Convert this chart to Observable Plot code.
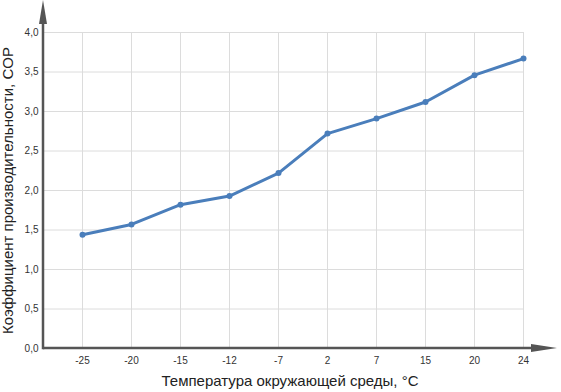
<!DOCTYPE html>
<html><head><meta charset="utf-8">
<script src="https://cdn.jsdelivr.net/npm/d3@7"></script>
<script src="https://cdn.jsdelivr.net/npm/@observablehq/plot@0.6"></script>
<style>body{margin:0;background:#fff}</style>
</head><body><div id="chart"></div>
<script>
const temperatures = ["-25","-20","-15","-12","-7","2","7","15","20","24"];
const cop = [1.44, 1.57, 1.82, 1.93, 2.22, 2.72, 2.91, 3.12, 3.46, 3.67];
const yTicks = [0,0.5,1,1.5,2,2.5,3,3.5,4];
const xTitle = "Температура окружающей среды, °C";
const yTitle = "Коэффициент производительности, COP";

const data = temperatures.map((t,i)=>({t, v: cop[i]}));
const W = 561, H = 392, mL = 43, mR = 37, mT = 32, mB = 44;
const font = "'Liberation Sans', Arial, sans-serif";
const plot = Plot.plot({
  width: W, height: H,
  marginLeft: mL, marginRight: mR, marginTop: mT, marginBottom: mB,
  style: {fontFamily: font, fontSize: "10px", color: "#333", background: "#fff"},
  x: {type: "point", domain: temperatures, range: [81, W - mR], padding: 0, label: null},
  y: {domain: [0, 4], label: null},
  marks: [
    Plot.gridY(yTicks, {stroke: "#dcdcdc", strokeOpacity: 1, strokeWidth: 1}),
    Plot.gridX(temperatures, {stroke: "#dcdcdc", strokeOpacity: 1, strokeWidth: 1}),
    Plot.axisY(yTicks, {tickSize: 0, tickPadding: 5, tickFormat: d => d.toFixed(1).replace(".", ","), fill: "#333", label: null}),
    Plot.axisX(temperatures, {tickSize: 0, tickPadding: 8, fill: "#333", label: null}),
    Plot.line(data, {x: "t", y: "v", stroke: "#4a7ebb", strokeWidth: 3}),
    Plot.dot(data, {x: "t", y: "v", fill: "#4a7ebb", r: 3}),
    Plot.text([yTitle], {frameAnchor: "left", textAnchor: "middle", rotate: -90, dx: -35, fontSize: 15, fill: "#222", fontFamily: font}),
    Plot.text([xTitle], {frameAnchor: "bottom", textAnchor: "middle", dy: 37, dx: 6, fontSize: 15, fill: "#222", fontFamily: font})
  ]
});
// axis lines with arrowheads
const svg = d3.select(plot);
const y0 = plot.scale("y").apply(0);
const g = svg.append("g").attr("fill", "#555").attr("stroke", "#555");
g.append("line").attr("x1", mL).attr("x2", W - 28).attr("y1", y0).attr("y2", y0).attr("stroke-width", 2.5);
g.append("path").attr("stroke", "none").attr("d", `M${W-4},${y0} L${W-30},${y0-4} L${W-30},${y0+4} Z`);
g.append("line").attr("x1", mL).attr("x2", mL).attr("y1", y0 + 1.2).attr("y2", 22).attr("stroke-width", 2.5);
g.append("path").attr("stroke", "none").attr("d", `M${mL},0 L${mL-4},24 L${mL+4},24 Z`);
document.getElementById("chart").appendChild(plot);
</script></body></html>
